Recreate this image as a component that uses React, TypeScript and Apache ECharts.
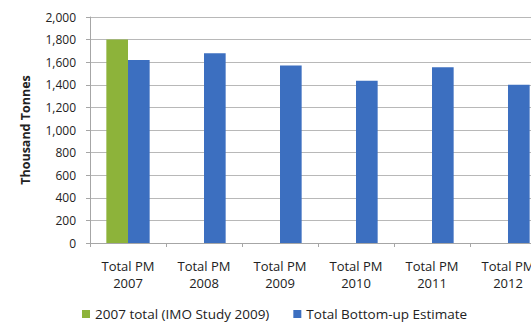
import React, { useEffect, useRef } from "react";
import * as echarts from "echarts";

const categories = ["Total PM\n2007", "Total PM\n2008", "Total PM\n2009", "Total PM\n2010", "Total PM\n2011", "Total PM\n2012"];
const imoStudy = [1800, null, null, null, null, null];
const bottomUp = [1620, 1680, 1570, 1435, 1555, 1400];
const yTicks = { min: 0, max: 2000, interval: 200 };

const FONT = "'Open Sans', 'Liberation Sans', sans-serif";

export default function App() {
  const ref = useRef<HTMLDivElement>(null);
  useEffect(() => {
    if (!ref.current) return;
    const chart = echarts.init(ref.current, null, { renderer: "svg" });
    chart.setOption({
      animation: false,
      backgroundColor: "#ffffff",
      grid: { left: 90, right: 14, top: 17, bottom: 84, containLabel: false },
      legend: {
        bottom: 1,
        left: 77,
        itemWidth: 8,
        itemHeight: 8,
        itemGap: 24,
        icon: "rect",
        textStyle: { fontFamily: FONT, fontSize: 13.5, color: "#222" },
        data: ["2007 total (IMO Study 2009)", "Total Bottom-up Estimate"],
      },
      xAxis: {
        type: "category",
        data: categories,
        axisLine: { lineStyle: { color: "#a6a6a6" } },
        axisTick: { show: true, alignWithLabel: false, length: 4, lineStyle: { color: "#a6a6a6" } },
        axisLabel: { fontFamily: FONT, fontSize: 13, color: "#222", lineHeight: 17, margin: 14, interval: 0 },
      },
      yAxis: {
        type: "value",
        min: yTicks.min,
        max: yTicks.max,
        interval: yTicks.interval,
        name: "Thousand Tonnes",
        nameLocation: "middle",
        nameGap: 58,
        nameTextStyle: { fontFamily: FONT, fontSize: 12.5, fontWeight: "bold", color: "#222" },
        axisLine: { show: true, lineStyle: { color: "#a6a6a6" } },
        axisTick: { show: true, length: 4, lineStyle: { color: "#a6a6a6" } },
        splitLine: { lineStyle: { color: "#b8b8b8" } },
        axisLabel: {
          fontFamily: FONT,
          fontSize: 12,
          color: "#222",
          margin: 14,
          formatter: (v: number) => v.toLocaleString("en-US"),
        },
      },
      series: [
        {
          name: "2007 total (IMO Study 2009)",
          type: "bar",
          data: imoStudy,
          barGap: "0%",
          barCategoryGap: "43%",
          itemStyle: { color: "#8db33a" },
        },
        {
          name: "Total Bottom-up Estimate",
          type: "bar",
          data: bottomUp,
          itemStyle: { color: "#3c6fc0" },
        },
      ],
    });
    return () => chart.dispose();
  }, []);
  return (
    <div style={{ position: "absolute", left: 0, top: 0, width: 531, height: 327, overflow: "hidden" }}>
      <div ref={ref} style={{ width: 560, height: 327 }} />
    </div>
  );
}
